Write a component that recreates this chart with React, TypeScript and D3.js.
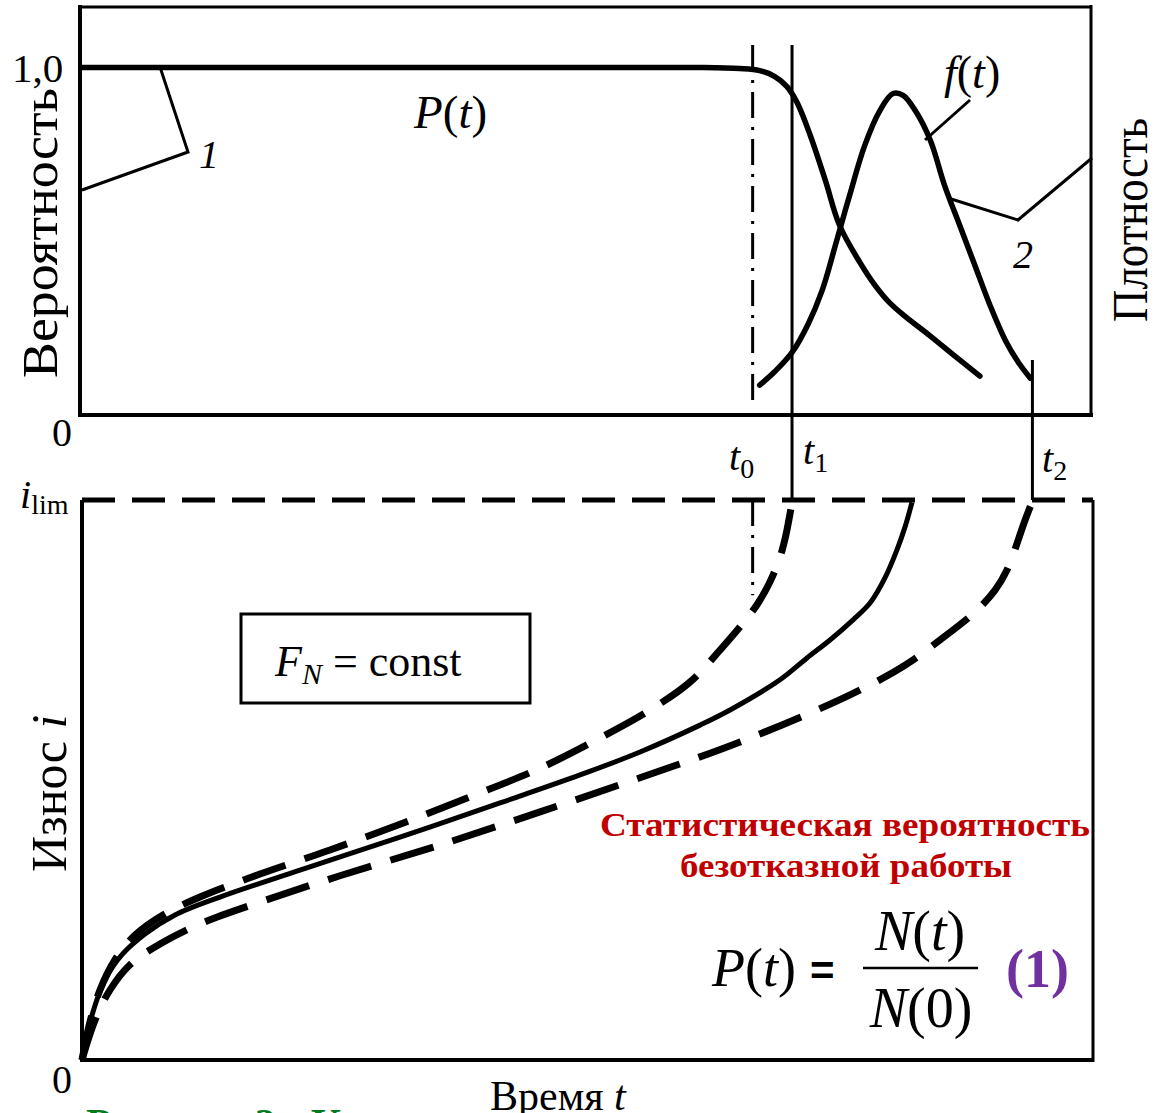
import React from "react";
import * as d3 from "d3";

// ---- data (time t in 0..100 units, probability / density / wear in 0..1) ----
const probT = [0, 21.6, 41.4, 61.2, 65.1, 67.1, 68.6, 69.8, 70.8, 72.1, 73.6, 75.0, 77.0, 78.5, 80.0, 81.5, 84.0, 86.4, 88.9];
const probP = [1, 1, 1, 1, 0.997, 0.991, 0.974, 0.945, 0.899, 0.805, 0.675, 0.546, 0.44, 0.374, 0.322, 0.284, 0.227, 0.17, 0.112];

const densT = [67.1, 68.6, 70.3, 71.9, 73.3, 74.6, 76.0, 77.5, 79.0, 80.3, 81.3, 82.5, 84.0, 85.4, 86.9, 88.4, 89.9, 91.4, 92.7, 93.9];
const densF = [0.086, 0.125, 0.18, 0.262, 0.36, 0.489, 0.632, 0.776, 0.876, 0.925, 0.92, 0.876, 0.79, 0.661, 0.546, 0.431, 0.316, 0.216, 0.152, 0.106];

const wearUpperT = [0, 0.79, 1.78, 3.27, 5.25, 8.22, 11.68, 17.62, 24.55, 31.49, 38.42, 45.35, 51.29, 56.24, 60.2, 63.17, 65.45, 66.83, 68.12, 69.11, 69.7, 70.3];
const wearUpperI = [0, 0.068, 0.125, 0.179, 0.223, 0.261, 0.291, 0.332, 0.375, 0.421, 0.47, 0.521, 0.575, 0.625, 0.675, 0.732, 0.78, 0.813, 0.854, 0.898, 0.938, 0.996];

const wearMidT = [0, 0.99, 2.28, 3.96, 6.24, 9.21, 13.66, 21.58, 31.49, 41.39, 49.31, 55.25, 61.19, 64.16, 69.11, 71.78, 74.06, 76.34, 78.02, 79.5, 80.69, 81.49, 82.18];
const wearMidI = [0, 0.08, 0.143, 0.188, 0.225, 0.259, 0.291, 0.339, 0.398, 0.459, 0.509, 0.55, 0.598, 0.625, 0.679, 0.718, 0.75, 0.786, 0.816, 0.861, 0.911, 0.952, 0.996];

const wearLowerT = [0, 1.29, 2.77, 4.75, 7.72, 11.68, 17.62, 25.54, 35.45, 45.35, 55.25, 65.15, 76.04, 81.49, 84.95, 88.42, 90.4, 91.58, 93.37, 94.06];
const wearLowerI = [0, 0.071, 0.125, 0.17, 0.207, 0.243, 0.282, 0.329, 0.384, 0.443, 0.504, 0.568, 0.652, 0.705, 0.75, 0.8, 0.839, 0.875, 0.964, 0.996];

const tMarks = [66.4, 70.3, 94.1]; // t0, t1, t2

const zip = (a: number[], b: number[]) => a.map((v, i) => [v, b[i]] as [number, number]);

export default function App() {
  const W = 1159, H = 1113;
  const x = d3.scaleLinear().domain([0, 100]).range([82, 1092]);
  const yTop = d3.scaleLinear().domain([0, 1]).range([415, 67.5]);
  const yBot = d3.scaleLinear().domain([0, 1]).range([1060, 500]);

  const lineTop = d3.line<[number, number]>().x(d => x(d[0])).y(d => yTop(d[1])).curve(d3.curveCatmullRom.alpha(0.5));
  const lineBot = d3.line<[number, number]>().x(d => x(d[0])).y(d => yBot(d[1])).curve(d3.curveCatmullRom.alpha(0.5));

  const [t0, t1, t2] = tMarks.map(v => x(v));
  const serif = "'Liberation Serif', 'Times New Roman', serif";

  return (
    <div style={{ position: "absolute", left: 0, top: 0 }}>
      <svg width={W} height={H} viewBox={`0 0 ${W} ${H}`} style={{ display: "block", background: "#fff" }} fontFamily={serif}>
        <rect x={0} y={0} width={W} height={H} fill="#fff" />
        {/* top frame */}
        <line x1={78} y1={7} x2={1092} y2={7} stroke="#000" strokeWidth={3} />
        <line x1={80} y1={5} x2={80} y2={417} stroke="#000" strokeWidth={4} />
        <line x1={1091} y1={5} x2={1091} y2={417} stroke="#000" strokeWidth={3} />
        <line x1={80} y1={415} x2={1093} y2={415} stroke="#000" strokeWidth={4} />

        {/* bottom frame */}
        <line x1={82} y1={500} x2={82} y2={1062} stroke="#000" strokeWidth={4} />
        <line x1={80} y1={1060} x2={1094} y2={1060} stroke="#000" strokeWidth={4} />
        <line x1={1093} y1={500} x2={1093} y2={1062} stroke="#000" strokeWidth={3} />
        <line x1={82} y1={yBot(1)} x2={1093} y2={yBot(1)} stroke="#000" strokeWidth={5} strokeDasharray="33 17" />

        {/* time markers */}
        <line x1={t0} y1={45} x2={t0} y2={400} stroke="#000" strokeWidth={3} strokeDasharray="26 9 3 9" />
        <line x1={t0} y1={yBot(1)} x2={t0} y2={yBot(0.83)} stroke="#000" strokeWidth={3} strokeDasharray="26 9 3 9" />
        <line x1={t1} y1={45} x2={t1} y2={yBot(1)} stroke="#000" strokeWidth={3} />
        <line x1={t2} y1={360} x2={t2} y2={yBot(1)} stroke="#000" strokeWidth={3} />

        {/* probability and density */}
        <path d={lineTop(zip(probT, probP)) || ""} fill="none" stroke="#000" strokeWidth={5.5} strokeLinecap="round" />
        <path d={lineTop(zip(densT, densF)) || ""} fill="none" stroke="#000" strokeWidth={5.5} strokeLinecap="round" />

        {/* leader lines */}
        <polyline points="160,67 188,152 82,190" fill="none" stroke="#000" strokeWidth={3} />
        <polyline points="948,198 1018,220 1092,158" fill="none" stroke="#000" strokeWidth={3} />
        <line x1={925} y1={140} x2={970} y2={100} stroke="#000" strokeWidth={3} />

        {/* wear curves */}
        <path d={lineBot(zip(wearUpperT, wearUpperI)) || ""} fill="none" stroke="#000" strokeWidth={7} strokeDasharray="45 20" />
        <path d={lineBot(zip(wearMidT, wearMidI)) || ""} fill="none" stroke="#000" strokeWidth={5} />
        <path d={lineBot(zip(wearLowerT, wearLowerI)) || ""} fill="none" stroke="#000" strokeWidth={7} strokeDasharray="45 20" />

        {/* labels top */}
        <text x={12} y={82} fontSize={41}>1,0</text>
        <text x={52} y={446} fontSize={40}>0</text>
        <text transform="translate(57,378) rotate(-90)" fontSize={50} textLength={290} lengthAdjust="spacingAndGlyphs">Вероятность</text>
        <text transform="translate(1147,322) rotate(-90)" fontSize={50} textLength={204} lengthAdjust="spacingAndGlyphs">Плотность</text>
        <text x={414} y={128} fontSize={47} fontStyle="italic">P<tspan fontStyle="normal">(</tspan>t<tspan fontStyle="normal">)</tspan></text>
        <text x={944} y={88} fontSize={46} fontStyle="italic">f<tspan fontStyle="normal">(</tspan>t<tspan fontStyle="normal">)</tspan></text>
        <text x={199} y={168} fontSize={40} fontStyle="italic">1</text>
        <text x={1013} y={268} fontSize={40} fontStyle="italic">2</text>
        <text x={729} y={470} fontSize={40} fontStyle="italic">t<tspan fontStyle="normal" fontSize={28} dy={8}>0</tspan></text>
        <text x={803} y={464} fontSize={40} fontStyle="italic">t<tspan fontStyle="normal" fontSize={28} dy={8}>1</tspan></text>
        <text x={1042} y={472} fontSize={40} fontStyle="italic">t<tspan fontStyle="normal" fontSize={28} dy={8}>2</tspan></text>

        {/* labels bottom */}
        <text x={20} y={508} fontSize={40} fontStyle="italic">i<tspan fontStyle="normal" fontSize={28} dy={6}>lim</tspan></text>
        <text x={52} y={1093} fontSize={40}>0</text>
        <text x={490} y={1110} fontSize={42}>Время <tspan fontStyle="italic">t</tspan></text>
        <text transform="translate(66,872) rotate(-90)" fontSize={50}>Износ <tspan fontStyle="italic">i</tspan></text>
        <text x={86} y={1138} fontSize={42} fontWeight="bold" fill="#007a1e">Рисунок 2 - Кривые износа</text>

        <rect x={241} y={614} width={289} height={89} fill="none" stroke="#000" strokeWidth={3} />
        <text x={275} y={676} fontSize={44} fontStyle="italic">F<tspan fontSize={30} dy={8}>N</tspan><tspan fontStyle="normal" dy={-8}> = const</tspan></text>

        <text x={600} y={836} fontSize={33} fontWeight="bold" fill="#c00000" textLength={490} lengthAdjust="spacingAndGlyphs">Статистическая вероятность</text>
        <text x={680} y={877} fontSize={33} fontWeight="bold" fill="#c00000" textLength={332} lengthAdjust="spacingAndGlyphs">безотказной работы</text>

        <text x={712} y={986} fontSize={54} fontStyle="italic">P<tspan fontStyle="normal">(</tspan>t<tspan fontStyle="normal">)</tspan></text>
        <text x={810} y={985} fontSize={42} fontWeight="bold" fontFamily="'Liberation Sans', Arial, sans-serif">=</text>
        <text x={920} y={950} fontSize={56} fontStyle="italic" textAnchor="middle">N<tspan fontStyle="normal">(</tspan>t<tspan fontStyle="normal">)</tspan></text>
        <line x1={863} y1={968} x2={978} y2={968} stroke="#000" strokeWidth={2.5} />
        <text x={921} y={1027} fontSize={56} fontStyle="italic" textAnchor="middle">N<tspan fontStyle="normal">(0)</tspan></text>
        <text x={1006} y={987} fontSize={54} fontWeight="bold" fill="#7030a0">(1)</text>
      </svg>
    </div>
  );
}
